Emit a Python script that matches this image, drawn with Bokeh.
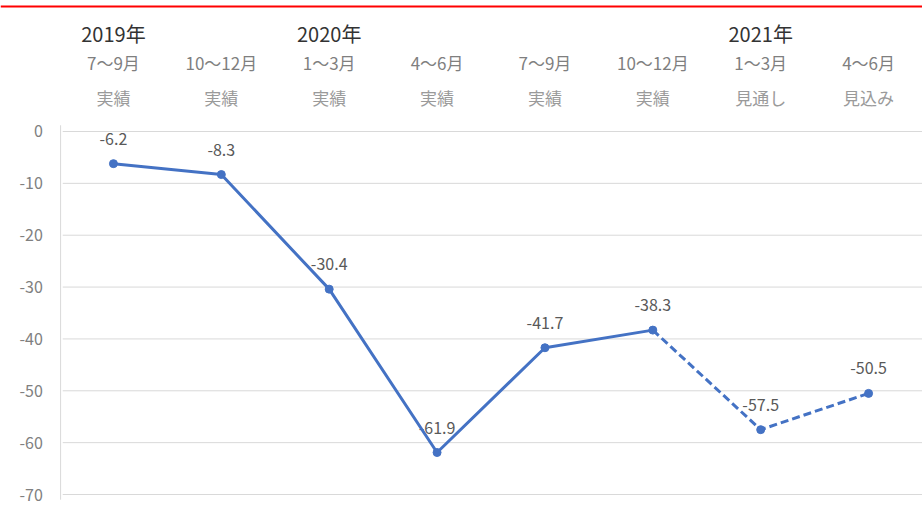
from bokeh.plotting import figure
from bokeh.models import Range1d, Span, ColumnDataSource
from bokeh.core.properties import value
from bokeh.embed import file_html
from bokeh.resources import INLINE

years = ["2019年", "", "2020年", "", "", "", "2021年", ""]
months = ["7～9月", "10～12月", "1～3月", "4～6月", "7～9月", "10～12月", "1～3月", "4～6月"]
kinds = ["実績", "実績", "実績", "実績", "実績", "実績", "見通し", "見込み"]
values = [-6.2, -8.3, -30.4, -61.9, -41.7, -38.3, -57.5, -50.5]
y_ticks = [0, -10, -20, -30, -40, -50, -60, -70]

FONT = "Noto Sans CJK JP"
BLUE = "#4472C4"

n = len(values)
xs = [i + 0.5 for i in range(n)]
x_left = -59 / 107.875

p = figure(width=922, height=505, output_backend="svg", toolbar_location=None,
           x_range=Range1d(x_left, n), y_range=Range1d(-72.12, 25.26),
           min_border_left=0, min_border_right=0, min_border_top=0, min_border_bottom=0)
p.xaxis.visible = False
p.yaxis.visible = False
p.xgrid.visible = False
p.ygrid.visible = False
p.outline_line_color = None

# horizontal gridlines
p.segment(x0=[0.03] * len(y_ticks), y0=y_ticks, x1=[n] * len(y_ticks), y1=y_ticks,
          line_color="#d9d9d9", line_width=1)
# y tick labels
tk = ColumnDataSource(dict(x=[-0.155] * len(y_ticks), y=y_ticks, t=[str(t) for t in y_ticks]))
p.text(x="x", y="y", text="t", source=tk, text_align="right", text_baseline="middle",
       text_font=value(FONT), text_font_size="16px", text_color="#808080")

# left vertical axis line
p.segment(x0=[0.01], y0=[y_ticks[-1] - 1], x1=[0.01], y1=[y_ticks[0] + 1.2], line_color="#d9d9d9", line_width=1)

# red top line
p.add_layout(Span(location=24.1, dimension="width", line_color="#ff0000", line_width=2))

# header labels
hdr = ColumnDataSource(dict(x=xs, years=years, months=months, kinds=kinds,
                            yy=[18.9] * n, ym=[13.3] * n, yk=[6.6] * n))
p.text(x="x", y="yy", text="years", source=hdr, text_align="center", text_baseline="middle",
       text_font=value(FONT), text_font_size="20px", text_color="#333333")
p.text(x="x", y="ym", text="months", source=hdr, text_align="center", text_baseline="middle",
       text_font=value(FONT), text_font_size="17px", text_color="#7f7f7f")
p.text(x="x", y="yk", text="kinds", source=hdr, text_align="center", text_baseline="middle",
       text_font=value(FONT), text_font_size="17px", text_color="#9a9a9a")

# data labels
lab = ColumnDataSource(dict(x=xs, y=[v + 4.8 for v in values], t=[f"{v:.1f}" for v in values]))
p.text(x="x", y="y", text="t", source=lab, text_align="center", text_baseline="middle",
       text_font=value(FONT), text_font_size="16px", text_color="#595959")

# lines
p.line(xs[:6], values[:6], line_color=BLUE, line_width=3)
p.line(xs[5:], values[5:], line_color=BLUE, line_width=3, line_dash="8 4")
p.scatter(xs, values, size=8, color=BLUE)

open("out.html", "w").write(file_html(p, INLINE))
